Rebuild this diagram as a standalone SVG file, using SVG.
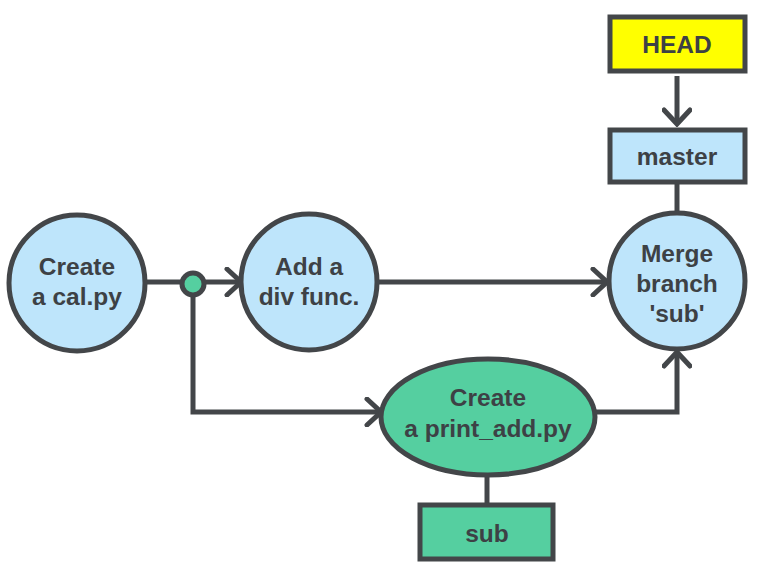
<svg xmlns="http://www.w3.org/2000/svg" width="760" height="572" viewBox="0 0 760 572">
<defs>
<style>
.n{stroke:#434649;stroke-width:5}
.blue{fill:#bee5fb}
.green{fill:#55cfa0}
.yellow{fill:#ffff00}
.t{font-family:"Liberation Sans",Arial,sans-serif;font-weight:bold;font-size:24.5px;fill:#3d4145;text-anchor:middle}
.c{fill:none;stroke:#434649;stroke-width:5}
</style>
<marker id="arr" viewBox="0 0 20 30" markerWidth="20" markerHeight="30" refX="17" refY="15" orient="auto" markerUnits="userSpaceOnUse">
<path d="M3,2 L17,15 L3,28" fill="none" stroke="#434649" stroke-width="5" stroke-linecap="round" stroke-linejoin="miter"/>
</marker>
</defs>
<rect width="760" height="572" fill="#ffffff"/>
<g id="connectors">
<line class="c" x1="146" y1="282" x2="241" y2="282" marker-end="url(#arr)"/>
<line class="c" x1="378" y1="282" x2="607" y2="282" marker-end="url(#arr)"/>
<polyline class="c" points="193,284 193,412 381,412" marker-end="url(#arr)"/>
<polyline class="c" points="596,412 677,412 677,352" marker-end="url(#arr)"/>
<line class="c" x1="677" y1="76" x2="677" y2="124" marker-end="url(#arr)"/>
<line class="c" x1="677" y1="183" x2="677" y2="213"/>
<line class="c" x1="487" y1="476" x2="487" y2="505"/>
</g>
<g id="dot">
<circle class="n green" cx="193" cy="284" r="11"/>
</g>
<g id="create-cal">
<circle class="n blue" cx="77" cy="283" r="68"/>
<text class="t" x="77" y="275">Create</text>
<text class="t" x="77" y="305">a cal.py</text>
</g>
<g id="add-div">
<circle class="n blue" cx="309" cy="282" r="68"/>
<text class="t" x="309" y="275">Add a</text>
<text class="t" x="309" y="305">div func.</text>
</g>
<g id="merge">
<circle class="n blue" cx="677" cy="281" r="68"/>
<text class="t" x="677" y="262">Merge</text>
<text class="t" x="677" y="292">branch</text>
<text class="t" x="677" y="322">'sub'</text>
</g>
<g id="create-print-add">
<ellipse class="n green" cx="488" cy="417" rx="107" ry="58"/>
<text class="t" x="488" y="406">Create</text>
<text class="t" x="488" y="437">a print_add.py</text>
</g>
<g id="sub">
<rect class="n green" x="420" y="505" width="133" height="54"/>
<text class="t" x="487" y="542">sub</text>
</g>
<g id="head">
<rect class="n yellow" x="610" y="17" width="135" height="54"/>
<text class="t" x="677" y="53">HEAD</text>
</g>
<g id="master">
<rect class="n blue" x="610" y="130" width="135" height="52"/>
<text class="t" x="677" y="165">master</text>
</g>
</svg>
